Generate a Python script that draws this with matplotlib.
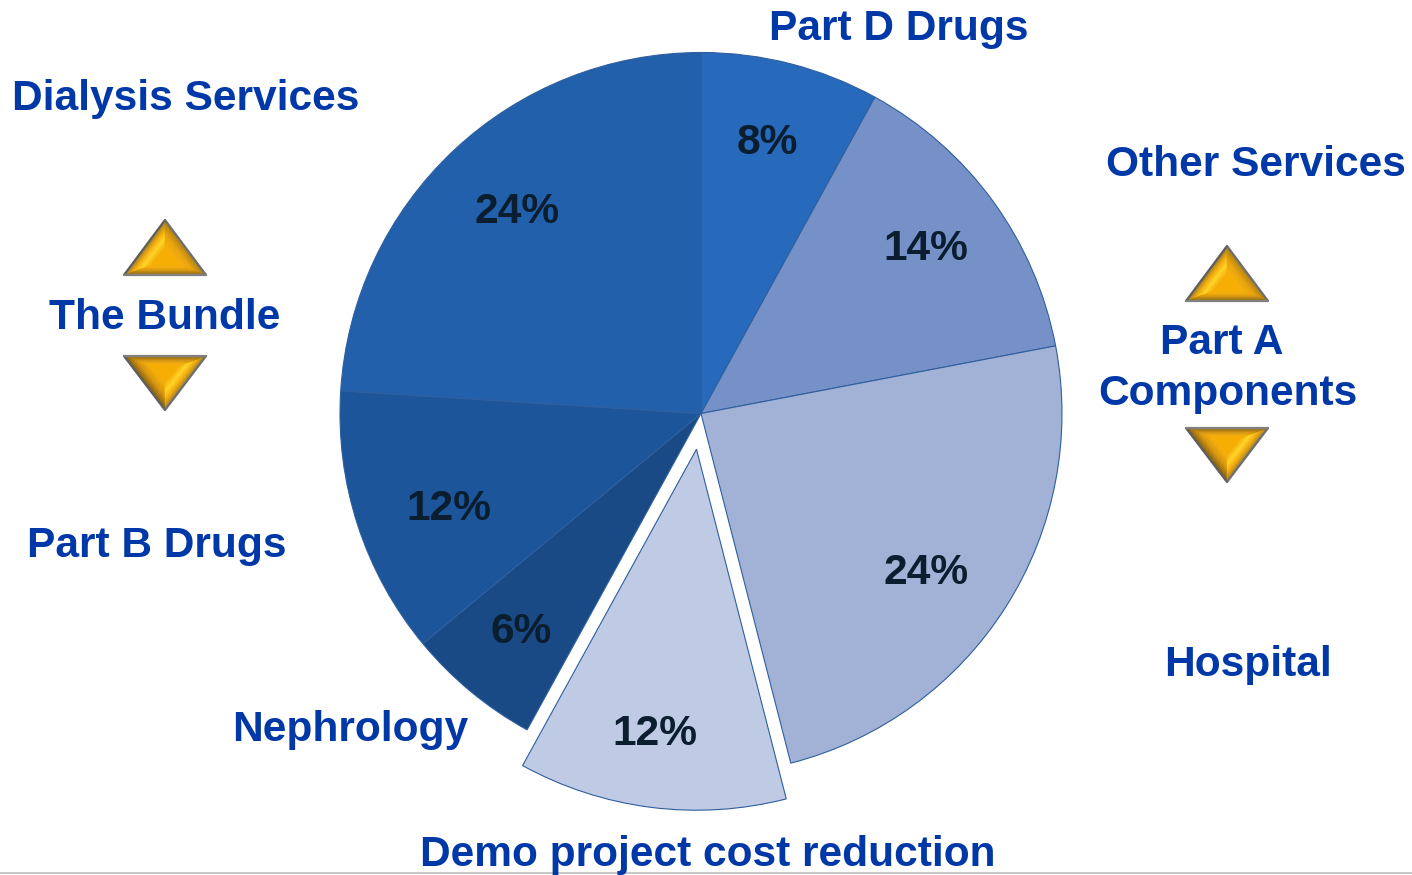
import matplotlib
matplotlib.use("Agg")
import matplotlib.pyplot as plt
from matplotlib.colors import LinearSegmentedColormap
from matplotlib.patches import Polygon

plt.rcParams['font.family'] = ['Liberation Sans', 'DejaVu Sans']

W, H = 1412, 875

categories = ['Part D Drugs', 'Other Services', 'Hospital', 'Demo project cost reduction',
              'Nephrology', 'Part B Drugs', 'Dialysis Services']
shares = [8, 14, 24, 12, 6, 12, 24]
# pie() takes this in data units, and the axes here are in pixels
explode = [0, 0, 0, 36, 0, 0, 0]
colors = ['#2769BB', '#7691C8', '#A2B1D6', '#BFCAE4', '#194A85', '#1C5599', '#2360AC']

BLUE = '#0038A8'
DARK = '#0A1E30'

fig = plt.figure(figsize=(W / 100, H / 100), dpi=100)
ax = fig.add_axes([0, 0, 1, 1])

ax.pie(shares, explode=explode, colors=colors, startangle=90, counterclock=False,
       center=(701, H - 413.5), radius=361, frame=True,
       wedgeprops={'edgecolor': '#2F5F9E', 'linewidth': 0.8})
ax.set_xlim(0, W)
ax.set_ylim(0, H)
ax.set_aspect('equal')
ax.axis('off')


def txt(x, y, s, color=BLUE, size=30.6):
    ax.text(x, H - y, s, color=color, fontsize=size, fontweight='bold',
            ha='center', va='center')


# percent labels, same order as the slices
pct_pos = [(767, 143), (926, 249), (926, 573), (655, 734), (521, 632), (449, 509), (517, 212)]
for v, (x, y) in zip(shares, pct_pos):
    txt(x, y, f'{v}%', color=DARK)

# category names
name_pos = [(899, 29), (1256, 165), (1248, 665), (708, 855), (350, 730), (157, 546), (186, 99)]
for c, (x, y) in zip(categories, name_pos):
    txt(x, y, c)

txt(165, 318, 'The Bundle')
txt(1222, 343, 'Part A')
txt(1228, 394, 'Components')


def lerp(p, q, t):
    return (p[0] + (q[0] - p[0]) * t, p[1] + (q[1] - p[1]) * t)


def facet(a, b, ia, ib, ramp, steps=12):
    # strip from outer edge a-b to inner edge ia-ib, shaded across its width
    cmap = LinearSegmentedColormap.from_list('f', ramp)
    for i in range(steps):
        t0, t1 = i / steps, (i + 1) / steps
        ax.add_patch(Polygon([lerp(a, ia, t0), lerp(b, ib, t0), lerp(b, ib, t1), lerp(a, ia, t1)],
                             fc=cmap(t0), ec=cmap(t0), lw=0.3, zorder=3))


def bevel_triangle(cx, base_y, tip_y, half=41):
    d = 1 if tip_y < base_y else -1
    tip = (cx, H - tip_y)
    bl = (cx - half, H - base_y)
    br = (cx + half, H - base_y)
    itip = (cx, H - (tip_y + d * 26))
    ibl = (cx - half + 25, H - (base_y - d * 9))
    ibr = (cx + half - 25, H - (base_y - d * 9))
    gold = '#F7AE04'
    if d == 1:
        left = ['#9A7A20', '#F3A904', '#FFD41E', gold]
        right = ['#A87C10', '#E8A004', gold]
    else:
        left = ['#7A5A10', '#D89204', gold]
        right = ['#A08020', '#F3A904', '#FFD41E', gold]
    base = ['#8A6410', '#B88208', '#E8A004', gold]
    ax.add_patch(Polygon([itip, ibl, ibr], fc=gold, ec=gold, lw=0.5, zorder=3))
    facet(tip, bl, itip, ibl, left)
    facet(tip, br, itip, ibr, right)
    facet(bl, br, ibl, ibr, base)
    ax.plot(*zip(tip, bl), color='#5E5E5E', lw=1.6, zorder=4, solid_capstyle='round')
    ax.plot(*zip(tip, br), color='#6E6E6E', lw=1.6, zorder=4, solid_capstyle='round')
    ax.plot(*zip(bl, br), color='#808080', lw=1.6, zorder=4, solid_capstyle='round')


bevel_triangle(165, 275, 220)
bevel_triangle(165, 356, 410)
bevel_triangle(1227, 301, 246)
bevel_triangle(1227, 428, 482)

# thin rule along the bottom edge
ax.plot([0, W], [H - 873, H - 873], color='#BDBDBD', lw=1.2, zorder=1)

fig.savefig('out.png', dpi=100)
